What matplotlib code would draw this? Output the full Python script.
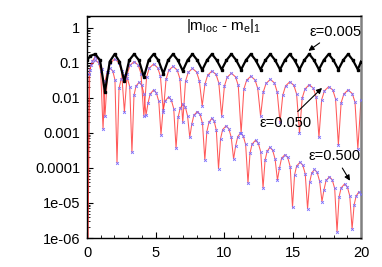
import matplotlib
matplotlib.use("Agg")
import matplotlib.pyplot as plt
from matplotlib.ticker import FixedLocator, NullFormatter

plt.rcParams['font.family'] = ['Liberation Sans', 'DejaVu Sans']
plt.rcParams['mathtext.default'] = 'regular'

# eps = 0.005 (black)
x_black = [0.0, 0.25, 0.6, 0.95, 1.31, 1.66, 2.02, 2.37, 2.73, 3.08, 3.44, 3.79, 4.15, 4.5, 4.86,
           5.21, 5.57, 5.92, 6.28, 6.63, 6.99, 7.34, 7.7, 8.05, 8.41, 8.76, 9.12, 9.47, 9.83,
           10.18, 10.54, 10.89, 11.25, 11.6, 11.96, 12.31, 12.67, 13.02, 13.38, 13.73, 14.09,
           14.44, 14.8, 15.15, 15.51, 15.86, 16.22, 16.57, 16.93, 17.28, 17.64, 17.99, 18.35,
           18.7, 19.06, 19.41, 19.77, 20.0]
y_black = [0.12, 0.16, 0.18, 0.12, 0.015, 0.11, 0.18, 0.11, 0.03, 0.12, 0.18, 0.12, 0.04, 0.12, 0.18,
           0.12, 0.05, 0.12, 0.18, 0.12, 0.06, 0.12, 0.18, 0.12, 0.063, 0.12, 0.18, 0.12, 0.065,
           0.12, 0.18, 0.12, 0.065, 0.12, 0.18, 0.12, 0.065, 0.12, 0.18, 0.12, 0.065,
           0.12, 0.18, 0.12, 0.065, 0.12, 0.18, 0.12, 0.065, 0.12, 0.18, 0.12, 0.065,
           0.12, 0.18, 0.12, 0.065, 0.11]

# eps = 0.050
x_mid = [0.0, 0.2, 0.4, 0.6, 0.9, 1.1, 1.31,
         1.51, 1.71, 2.02, 2.32, 2.52, 2.73,
         2.93, 3.13, 3.44, 3.74, 3.94, 4.15,
         4.35, 4.55, 4.86, 5.16, 5.36, 5.57,
         5.77, 5.97, 6.28, 6.58, 6.78, 6.99,
         7.19, 7.39, 7.7, 8.0, 8.2, 8.41,
         8.61, 8.81, 9.12, 9.42, 9.62, 9.83,
         10.03, 10.23, 10.54, 10.84, 11.04, 11.25,
         11.45, 11.65, 11.96, 12.26, 12.46, 12.67,
         12.87, 13.07, 13.38, 13.68, 13.88, 14.09,
         14.29, 14.49, 14.8, 15.1, 15.3, 15.51,
         15.71, 15.91, 16.22, 16.52, 16.72, 16.93,
         17.13, 17.33, 17.64, 17.94, 18.14, 18.35,
         18.55, 18.75, 19.06, 19.36, 19.56, 19.77, 20.0]
y_mid = [1e-9, 0.065, 0.115, 0.15, 0.12, 0.068, 0.003,
         0.056, 0.1, 0.13, 0.103, 0.059, 0.004,
         0.047, 0.085, 0.11, 0.087, 0.05, 0.003,
         0.04, 0.072, 0.093, 0.073, 0.042, 0.004,
         0.034, 0.062, 0.08, 0.063, 0.036, 0.002,
         0.03, 0.054, 0.07, 0.055, 0.031, 0.006,
         0.025, 0.045, 0.059, 0.047, 0.027, 0.003,
         0.022, 0.039, 0.051, 0.04, 0.023, 0.001,
         0.018, 0.032, 0.042, 0.033, 0.019, 0.003,
         0.015, 0.026, 0.034, 0.027, 0.015, 0.002,
         0.012, 0.022, 0.029, 0.023, 0.013, 0.001,
         0.01, 0.018, 0.024, 0.019, 0.011, 7.5e-4,
         0.009, 0.016, 0.021, 0.017, 0.0095, 4.6e-4,
         0.0073, 0.013, 0.017, 0.0134, 0.0077, 3.5e-4, 0.009]

# eps = 0.500
x_low = [0.0, 0.15, 0.3, 0.62, 0.85, 1.0, 1.17,
         1.32, 1.47, 1.68, 1.88, 2.04, 2.19,
         2.34, 2.49, 2.74, 2.94, 3.12, 3.28,
         3.43, 3.58, 3.8, 4.0, 4.16, 4.31,
         4.46, 4.61, 4.86, 5.06, 5.24, 5.4,
         5.55, 5.7, 5.95, 6.15, 6.33, 6.5,
         6.65, 6.8, 7.0, 7.18, 7.34, 7.5,
         7.65, 7.8, 8.05, 8.25, 8.43, 8.6,
         8.75, 8.9, 9.1, 9.28, 9.44, 9.6,
         9.75, 9.9, 10.15, 10.35, 10.53, 10.7,
         10.85, 11.0, 11.2, 11.4, 11.58, 11.75,
         11.9, 12.05, 12.3, 12.5, 12.68, 12.85,
         13.0, 13.15, 13.35, 13.55, 13.73, 13.9,
         14.05, 14.2, 14.45, 14.65, 14.83, 15.0,
         15.15, 15.3, 15.55, 15.75, 15.93, 16.1,
         16.25, 16.4, 16.6, 16.8, 16.98, 17.15,
         17.3, 17.45, 17.7, 17.9, 18.08, 18.25,
         18.4, 18.55, 18.8, 19.0, 19.18, 19.35,
         19.5, 19.65, 19.85, 20.0]
y_low = [1e-9, 0.05, 0.085, 0.12, 0.1, 0.06, 1.3e-3,
         0.03, 0.055, 0.071, 0.059, 0.033, 1.4e-4,
         0.019, 0.034, 0.044, 0.037, 0.021, 2.8e-4,
         0.012, 0.022, 0.028, 0.023, 0.013, 3.3e-3,
         0.0073, 0.013, 0.017, 0.014, 0.008, 8.8e-4,
         0.0046, 0.0083, 0.0106, 0.0088, 0.005, 3.7e-4,
         0.0028, 0.0051, 0.0066, 0.0055, 0.0031, 7.5e-4,
         0.0018, 0.0032, 0.0041, 0.0034, 0.0019, 1.7e-4,
         0.0011, 0.002, 0.0026, 0.0022, 0.0012, 9.5e-5,
         6.9e-4, 1.25e-3, 1.6e-3, 1.33e-3, 7.5e-4, 1.8e-4,
         4.3e-4, 7.8e-4, 1e-3, 8.3e-4, 4.7e-4, 3.7e-5,
         2.7e-4, 4.8e-4, 6.2e-4, 5.1e-4, 2.9e-4, 2.7e-5,
         1.7e-4, 3.0e-4, 3.9e-4, 3.2e-4, 1.8e-4, 4.5e-5,
         1.0e-4, 1.9e-4, 2.4e-4, 2.0e-4, 1.1e-4, 7.5e-6,
         6.3e-5, 1.14e-4, 1.46e-4, 1.2e-4, 6.8e-5, 6.8e-6,
         3.9e-5, 7.1e-5, 9.1e-5, 7.5e-5, 4.2e-5, 1.1e-5,
         2.4e-5, 4.4e-5, 5.6e-5, 4.6e-5, 2.6e-5, 1.5e-6,
         1.5e-5, 2.7e-5, 3.5e-5, 2.9e-5, 1.6e-5, 1.8e-6,
         9e-6, 1.6e-5, 2.1e-5, 1.8e-5]

x_ticks = [0, 5, 10, 15, 20]
y_ticks = [1e-6, 1e-5, 1e-4, 1e-3, 1e-2, 1e-1, 1]
y_tick_labels = ['1e-06', '1e-05', '0.0001', '0.001', '0.01', '0.1', '1']

fig = plt.figure(figsize=(3.82, 2.67), dpi=100)
ax = fig.add_axes([87/382, 29/267, 274/382, 222/267])

red = '#ff3030'
blue = '#7a70ff'
for xs, ys in [(x_low, y_low), (x_mid, y_mid)]:
    ax.plot(xs, ys, '-', color=red, lw=0.75, alpha=0.8, zorder=2)
    ax.plot(xs, ys, 'x', color=blue, ms=2.0, mew=0.6, zorder=3)
ax.plot(x_black, y_black, '-', color='black', lw=1.6, zorder=4)
ax.plot(x_black, y_black, 's', color='black', ms=1.8, zorder=4)

ax.set_yscale('log')
ax.set_xlim(0, 20)
ax.set_ylim(1e-6, 2.2)
ax.xaxis.set_major_locator(FixedLocator(x_ticks))
ax.xaxis.set_minor_locator(FixedLocator(list(range(0, 21))))
ax.set_yticks(y_ticks)
ax.set_yticklabels(y_tick_labels)
ax.yaxis.set_minor_formatter(NullFormatter())
ax.tick_params(axis='both', which='both', direction='in', labelsize=10.5,
               top=False, right=False, colors='black')
ax.tick_params(which='major', length=4, width=0.8)
ax.tick_params(which='minor', length=2, width=0.6)
ax.tick_params(axis='x', pad=6)
ax.tick_params(axis='y', pad=5)
ax.spines['right'].set_color('#808080')
ax.spines['right'].set_linewidth(1.8)
for s in ['left', 'top', 'bottom']:
    ax.spines[s].set_linewidth(1.0)

ax.text(0.5, 0.955, r'$|m_{loc}$ - $m_e|_1$', transform=ax.transAxes,
        ha='center', va='center', fontsize=11)

akw = dict(arrowstyle='-|>', color='black', lw=0.8, mutation_scale=8)
ax.annotate('ε=0.005', xy=(16.0, 0.2), xytext=(18.15, 0.5),
            ha='center', va='bottom', fontsize=10.5, arrowprops=akw)
ax.annotate('ε=0.050', xy=(17.3, 0.022), xytext=(14.5, 0.0019),
            ha='center', va='center', fontsize=10.5, arrowprops=akw)
ax.annotate('ε=0.500', xy=(19.3, 3.7e-5), xytext=(18.1, 1.4e-4),
            ha='center', va='bottom', fontsize=10.5, arrowprops=akw)

fig.savefig('out.png', dpi=100)
